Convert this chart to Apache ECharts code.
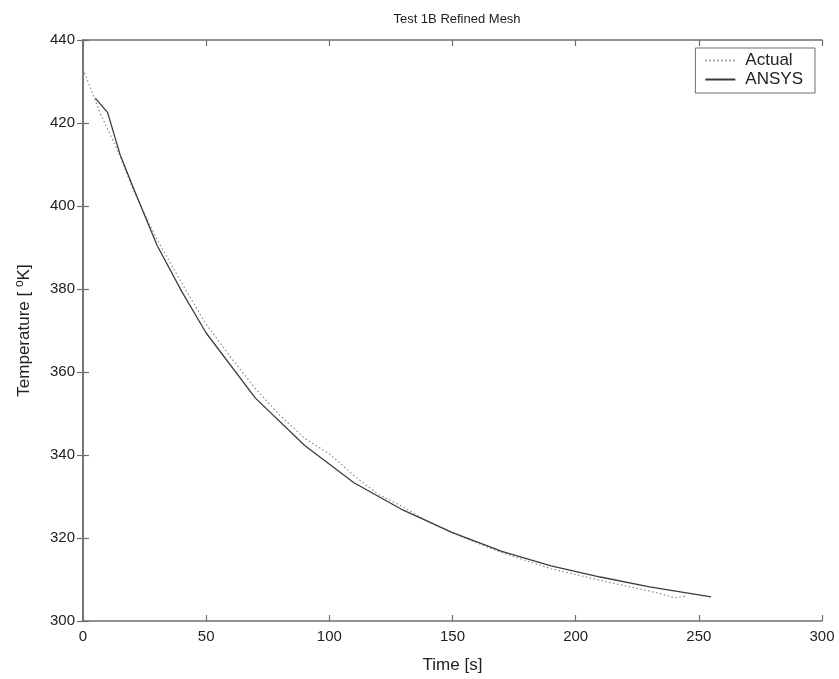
<!DOCTYPE html>
<html>
<head>
<meta charset="utf-8">
<script src="https://cdn.jsdelivr.net/npm/echarts@6/dist/echarts.min.js"></script>
<style>html,body{margin:0;padding:0;background:#fff;}#c{width:839px;height:679px;}</style>
</head>
<body>
<div id="c"></div>
<script>
var actualTime = [0, 3, 7, 14, 20, 25, 30, 40, 50, 60, 70, 80, 90, 100, 110, 120, 130, 140, 150, 160, 170, 180, 190, 200, 210, 220, 230, 235, 240, 245];
var actualTemp = [433, 428.5, 422.3, 413.5, 404.5, 398, 392, 381.5, 371.5, 363.5, 356, 349.5, 344, 340.3, 335, 330.5, 327.5, 324, 321.3, 318.8, 316.5, 314.5, 312.6, 311.2, 309.8, 308.5, 307.2, 306.5, 305.6, 306];
var ansysTime = [5, 10, 15, 20, 30, 40, 50, 70, 90, 110, 130, 150, 170, 190, 210, 230, 255];
var ansysTemp = [426, 422.5, 412.5, 405, 390.6, 379.5, 369.4, 353.7, 342.3, 333.3, 326.7, 321.3, 316.8, 313.3, 310.6, 308.2, 305.8];
var xTicks = [0, 50, 100, 150, 200, 250, 300];
var yTicks = [300, 320, 340, 360, 380, 400, 420, 440];

function pairs(xs, ys) { return xs.map(function (x, i) { return [x, ys[i]]; }); }

var axisCol = '#6e6e6e';
var txtCol = '#222';
var font = 'Liberation Sans, Arial, sans-serif';
var tickStyle = { show: true, inside: true, length: 6, lineStyle: { color: axisCol, width: 1.2 } };
var lineStyleAxis = { show: true, lineStyle: { color: axisCol, width: 1.5 } };
var chart = echarts.init(document.getElementById('c'));
chart.setOption({
  backgroundColor: '#fff',
  animation: false,
  title: {
    text: 'Test 1B Refined Mesh', left: 452, top: 8, textAlign: 'center',
    textStyle: { fontFamily: font, fontSize: 13, fontWeight: 'normal', color: txtCol }
  },
  legend: {
    right: 24, top: 48, orient: 'vertical', itemGap: 2,
    itemWidth: 30, itemHeight: 16,
    backgroundColor: '#fff', borderColor: axisCol, borderWidth: 1, borderRadius: 0,
    padding: [4, 12, 5, 9],
    itemStyle: { opacity: 0 },
    textStyle: { fontFamily: font, fontSize: 17, color: txtCol, padding: [0, 0, 0, 5] },
    data: ['Actual', 'ANSYS']
  },
  grid: { left: 83, top: 40, right: 17, bottom: 58, containLabel: false },
  xAxis: [{
    type: 'value', min: xTicks[0], max: xTicks[xTicks.length - 1], interval: 50,
    name: 'Time [s]', nameLocation: 'middle', nameGap: 36,
    nameTextStyle: { fontFamily: font, fontSize: 17, color: txtCol },
    axisLine: lineStyleAxis, axisTick: tickStyle,
    axisLabel: { fontFamily: font, fontSize: 15, color: txtCol, margin: 8 },
    splitLine: { show: false }
  }, {
    type: 'value', position: 'top', min: xTicks[0], max: xTicks[xTicks.length - 1], interval: 50,
    axisLine: lineStyleAxis, axisTick: tickStyle,
    axisLabel: { show: false }, splitLine: { show: false }
  }],
  yAxis: [{
    type: 'value', min: yTicks[0], max: yTicks[yTicks.length - 1], interval: 20,
    name: 'Temperature [ {sup|o}K]', nameLocation: 'middle', nameGap: 49, nameRotate: 90,
    nameTextStyle: {
      fontFamily: font, fontSize: 17, color: txtCol,
      rich: { sup: { fontFamily: font, fontSize: 12, color: txtCol, padding: [0, 0, 8, 0] } }
    },
    axisLine: lineStyleAxis, axisTick: tickStyle,
    axisLabel: { fontFamily: font, fontSize: 15, color: txtCol, margin: 8 },
    splitLine: { show: false }
  }, {
    type: 'value', position: 'right', min: yTicks[0], max: yTicks[yTicks.length - 1], interval: 20,
    axisLine: lineStyleAxis, axisTick: tickStyle,
    axisLabel: { show: false }, splitLine: { show: false }
  }],
  series: [{
    name: 'Actual', type: 'line', symbol: 'none', smooth: false,
    itemStyle: { color: '#8a8a8a' },
    lineStyle: { color: '#8a8a8a', width: 1.2, type: [1.5, 2.5] },
    data: pairs(actualTime, actualTemp)
  }, {
    name: 'ANSYS', type: 'line', symbol: 'none', smooth: false,
    itemStyle: { color: '#3c3c3c' },
    lineStyle: { color: '#3c3c3c', width: 1.3, type: 'solid' },
    data: pairs(ansysTime, ansysTemp)
  }]
});
</script>
</body>
</html>
